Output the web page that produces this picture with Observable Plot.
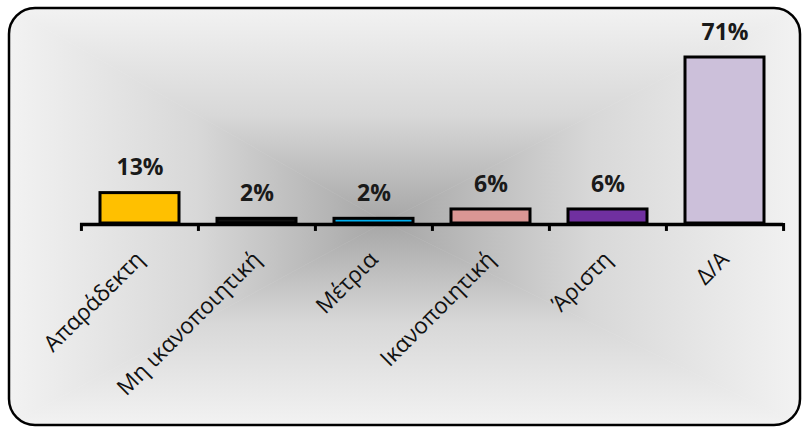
<!DOCTYPE html>
<html>
<head>
<meta charset="utf-8">
<script src="https://cdn.jsdelivr.net/npm/d3@7"></script>
<script src="https://cdn.jsdelivr.net/npm/@observablehq/plot@0.6"></script>
<style>
  html, body { margin: 0; padding: 0; background: #ffffff; }
  #wrap { position: relative; width: 805px; height: 427px; overflow: hidden; }
  #bg, #chart { position: absolute; left: 0; top: 0; }
  #chart svg { background: transparent; }
</style>
</head>
<body>
<div id="wrap">
  <svg id="bg" width="805" height="427"></svg>
  <div id="chart"></div>
</div>
<script>
const categories = ["Απαράδεκτη", "Μη ικανοποιητική", "Μέτρια", "Ικανοποιητική", "Άριστη", "Δ/Α"];
const values = [13, 2, 2, 6, 6, 71];
const colors = ["#FFC000", "#111111", "#00B0F0", "#DA9694", "#7030A0", "#CCC0DA"];

const data = categories.map((c, i) => ({category: c, value: values[i], color: colors[i]}));

// Background frame with rectangular path gradient (decoration)
(function drawBackground() {
  const ns = "http://www.w3.org/2000/svg";
  const svg = document.getElementById("bg");
  const x0 = 9, y0 = 8, x1 = 800, y1 = 425, r = 26;
  const cx = 385, cy = 222;
  const edge = "#f2f2f2", center = "#a6a6a6";
  const defs = document.createElementNS(ns, "defs");
  svg.appendChild(defs);
  const clip = document.createElementNS(ns, "clipPath");
  clip.setAttribute("id", "frameClip");
  const cr = document.createElementNS(ns, "rect");
  Object.entries({x: x0, y: y0, width: x1 - x0, height: y1 - y0, rx: r, ry: r}).forEach(([k, v]) => cr.setAttribute(k, v));
  clip.appendChild(cr);
  defs.appendChild(clip);
  const grads = [
    ["gT", 0, y0, 0, cy, [[x0, y0], [x1, y0], [cx, cy]]],
    ["gB", 0, y1, 0, cy, [[x0, y1], [x1, y1], [cx, cy]]],
    ["gL", x0, 0, cx, 0, [[x0, y0], [x0, y1], [cx, cy]]],
    ["gR", x1, 0, cx, 0, [[x1, y0], [x1, y1], [cx, cy]]]
  ];
  const g = document.createElementNS(ns, "g");
  g.setAttribute("clip-path", "url(#frameClip)");
  svg.appendChild(g);
  for (const [id, gx1, gy1, gx2, gy2, pts] of grads) {
    const lg = document.createElementNS(ns, "linearGradient");
    lg.setAttribute("id", id);
    lg.setAttribute("gradientUnits", "userSpaceOnUse");
    lg.setAttribute("x1", gx1 || 0); lg.setAttribute("y1", gy1 || 0);
    lg.setAttribute("x2", gx2 || 0); lg.setAttribute("y2", gy2 || 0);
    [[0, edge], [0.5, "#d8d8d8"], [1, center]].forEach(([o, c]) => {
      const s = document.createElementNS(ns, "stop");
      s.setAttribute("offset", o); s.setAttribute("stop-color", c);
      lg.appendChild(s);
    });
    defs.appendChild(lg);
    const poly = document.createElementNS(ns, "polygon");
    poly.setAttribute("points", pts.map(p => p.join(",")).join(" "));
    poly.setAttribute("fill", `url(#${id})`);
    poly.setAttribute("stroke", `url(#${id})`);
    poly.setAttribute("stroke-width", "0.6");
    g.appendChild(poly);
  }
  const border = document.createElementNS(ns, "rect");
  Object.entries({x: x0, y: y0, width: x1 - x0, height: y1 - y0, rx: r, ry: r, fill: "none", stroke: "#000", "stroke-width": 2.5}).forEach(([k, v]) => border.setAttribute(k, v));
  svg.appendChild(border);
})();

const W = 805, H = 427;
const mL = 80, mR = 22;
const step = (W - mL - mR) / categories.length;

const chart = Plot.plot({
  width: W,
  height: H,
  marginLeft: mL,
  marginRight: mR,
  marginTop: 57,
  marginBottom: 204,
  style: {background: "transparent", fontFamily: "'Open Sans', sans-serif", overflow: "visible"},
  x: {domain: categories, paddingInner: 0.326, paddingOuter: 0.163, axis: null},
  y: {domain: [0, 71], axis: null},
  marks: [
    Plot.barY(data, {x: "category", y: "value", fill: "color", stroke: "#000", strokeWidth: 3}),
    Plot.ruleY([0], {stroke: "#000", strokeWidth: 3.5, dy: 1}),
    Plot.ruleX(categories, {x: d => d, y1: 0, y2: -3.4, dx: -step / 2, stroke: "#000", strokeWidth: 3}),
    Plot.ruleX([categories[categories.length - 1]], {x: d => d, y1: 0, y2: -3.4, dx: step / 2, stroke: "#000", strokeWidth: 3}),
    Plot.text(data, {x: "category", y: "value", text: d => d.value + "%", dy: -25, fontSize: 23, fontWeight: "bold", fill: "#1a1a1a", fontFamily: "'Open Sans', sans-serif"}),
    Plot.text(categories, {x: d => d, frameAnchor: "bottom", text: d => d, rotate: -45, textAnchor: "end", lineAnchor: "top", dx: -6, dy: 26, fontSize: 22.5, fill: "#111", fontFamily: "'Open Sans', sans-serif"})
  ]
});
document.getElementById("chart").appendChild(chart);
</script>
</body>
</html>
